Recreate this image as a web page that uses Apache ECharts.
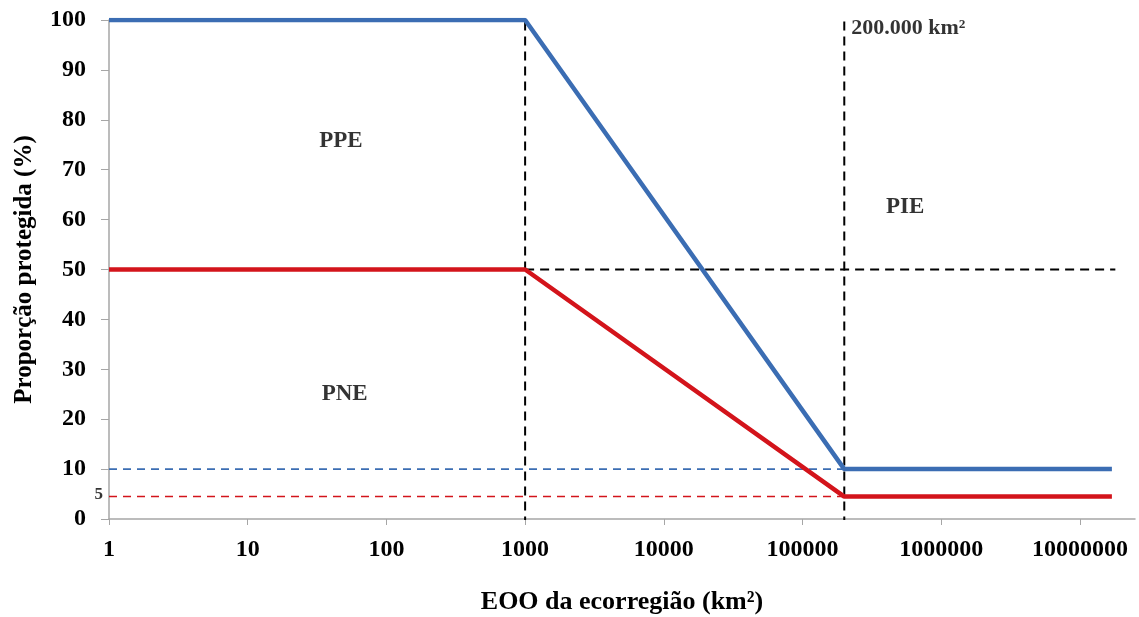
<!DOCTYPE html>
<html><head><meta charset="utf-8">
<script src="https://cdn.jsdelivr.net/npm/echarts@6/dist/echarts.min.js"></script>
<style>html,body{margin:0;padding:0;background:#fff}#c{width:1139px;height:617px}</style>
</head><body><div id="c"></div>
<script>
const xTickLabels = [1, 10, 100, 1000, 10000, 100000, 1000000, 10000000];
const yTickLabels = [0,10,20,30,40,50,60,70,80,90,100];
const eoo = [1, 1000, 200000, 17000000];
const ppe = [100, 100, 10, 10];
const pne = [50, 50, 4.5, 4.5];
const vLine1000 = [[1000, -1.3], [1000, 100]];
const vLine200k = [[200000, -1.3], [200000, 100]];
const hLine50 = [[1000, 50], [18000000, 50]];
const hLine10 = [[1, 10], [18000000, 10]];
const hLine5 = [[1, 4.5], [18000000, 4.5]];
const annotations = [
  {name: 'PPE', value: [47, 75.7]},
  {name: 'PNE', value: [50, 25]},
  {name: 'PIE', value: [550000, 62.6]}
];
const note200k = [{name: '200.000 km²', value: [200000, 98.3]}];
const note5 = [{name: '5', value: [1, 4.9]}];

const BLUE = '#3b6db3', RED = '#d3141b';
const font = '"Liberation Serif", "Times New Roman", serif';
const chart = echarts.init(document.getElementById('c'));
const dashed = (data, color, w, dash) => ({
  type: 'line', data, symbol: 'none', silent: true, z: 1,
  lineStyle: {color, width: w, type: dash}
});
chart.setOption({
  animation: false,
  textStyle: {fontFamily: font},
  grid: {left: 109, right: 4, top: 20, bottom: 98, outerBoundsMode: 'none', containLabel: false},
  xAxis: {
    type: 'log', min: 1, max: Math.pow(10, 7.397), logBase: 10,
    name: 'EOO da ecorregião (km²)', nameLocation: 'middle', nameGap: 70,
    nameTextStyle: {fontFamily: font, fontWeight: 'bold', fontSize: 26, color: '#000'},
    axisLine: {lineStyle: {color: '#a6a6a6', width: 1.5}},
    axisTick: {show: true, length: 6, lineStyle: {color: '#a6a6a6'}, customValues: xTickLabels},
    axisLabel: {customValues: xTickLabels, fontFamily: font, fontWeight: 'bold', fontSize: 24, color: '#000', margin: 19,
      formatter: v => String(v)},
    splitLine: {show: false}, minorTick: {show: false}
  },
  yAxis: {
    type: 'value', min: 0, max: 100, interval: 10,
    name: 'Proporção protegida (%)', nameLocation: 'middle', nameGap: 72, nameRotate: 90,
    nameTextStyle: {fontFamily: font, fontWeight: 'bold', fontSize: 25, color: '#000'},
    axisLine: {show: true, lineStyle: {color: '#a6a6a6', width: 1.5}},
    axisTick: {show: true, length: 8, lineStyle: {color: '#a6a6a6'}},
    axisLabel: {fontFamily: font, fontWeight: 'bold', fontSize: 24, color: '#000', margin: 23},
    splitLine: {show: false}
  },
  series: [
    dashed(hLine10, BLUE, 1.6, [8, 6]),
    dashed(hLine5, RED, 1.6, [8, 6]),
    dashed(hLine50, '#000', 2, [9, 6]),
    dashed(vLine1000, '#000', 2, [9, 6]),
    dashed(vLine200k, '#000', 2, [9, 6]),
    {type: 'line', name: 'PPE', data: eoo.map((x, i) => [x, ppe[i]]), symbol: 'none', z: 3,
      lineStyle: {color: BLUE, width: 4.5}},
    {type: 'line', name: 'PNE', data: eoo.map((x, i) => [x, pne[i]]), symbol: 'none', z: 3,
      lineStyle: {color: RED, width: 4.5}},
    {type: 'scatter', data: annotations, symbolSize: 0, silent: true,
      label: {show: true, position: 'inside', formatter: p => p.name, fontFamily: font, fontWeight: 'bold', fontSize: 23, color: '#000'}},
    {type: 'scatter', data: note200k, symbolSize: 0, silent: true,
      label: {show: true, position: 'right', distance: 7, formatter: p => p.name, fontFamily: font, fontWeight: 'bold', fontSize: 22, color: '#000'}},
    {type: 'scatter', data: note5, symbolSize: 0, silent: true,
      label: {show: true, position: 'left', distance: 6, formatter: p => p.name, fontFamily: font, fontWeight: 'bold', fontSize: 17, color: '#000'}}
  ]
});
</script></body></html>
